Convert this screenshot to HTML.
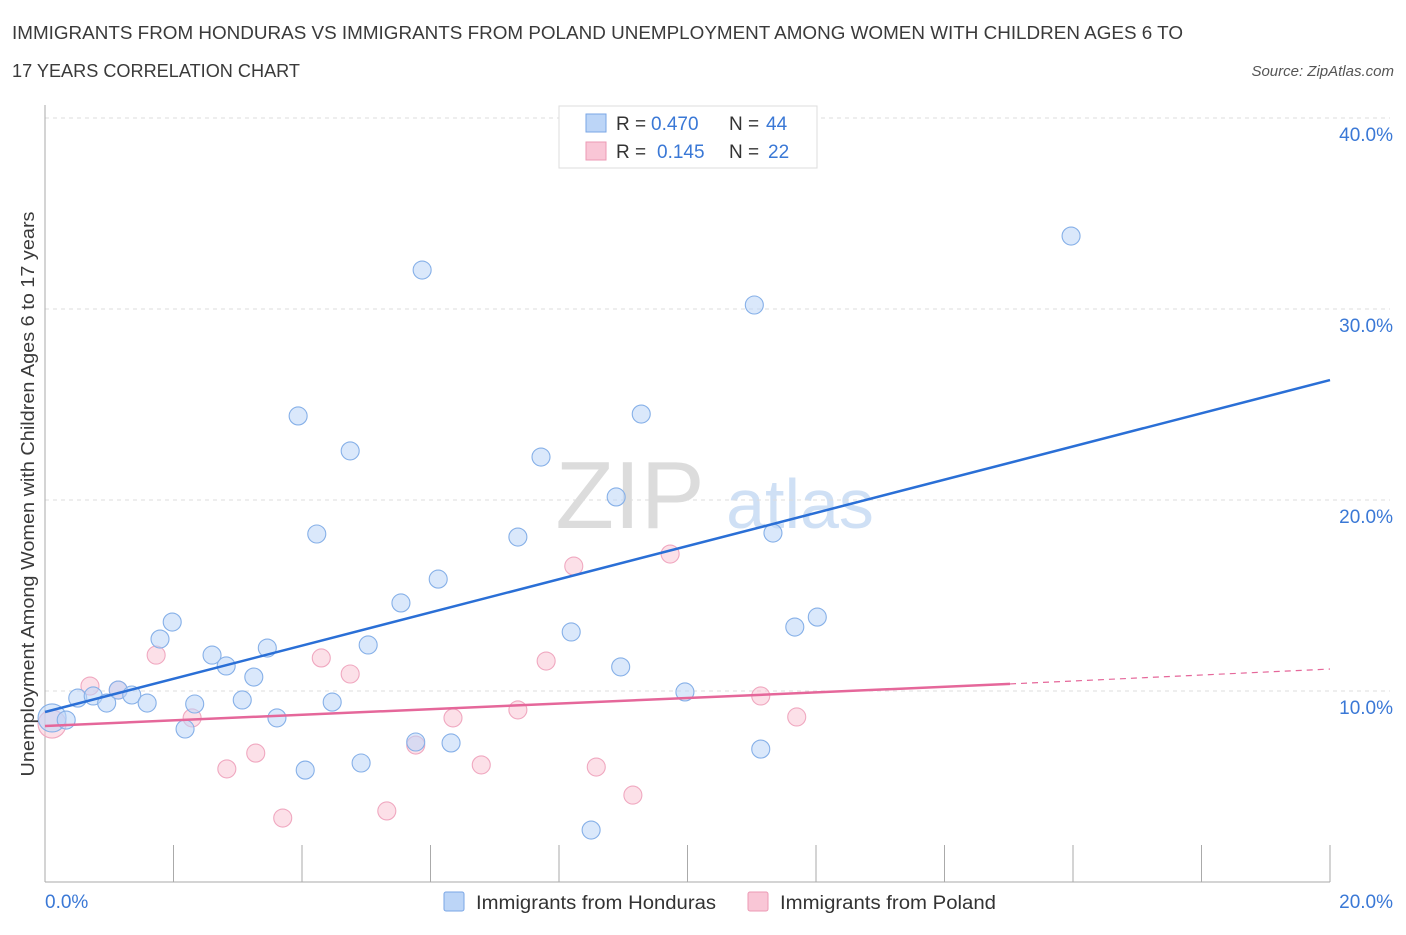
<!DOCTYPE html>
<html><head><meta charset="utf-8"><style>
body{margin:0;background:#fff;font-family:"Liberation Sans",sans-serif}
svg text{font-family:"Liberation Sans",sans-serif}
</style></head><body>
<svg width="1406" height="930" xmlns="http://www.w3.org/2000/svg">
<text x="12" y="39" font-size="18" fill="#3a3a3a" textLength="1171" lengthAdjust="spacingAndGlyphs">IMMIGRANTS FROM HONDURAS VS IMMIGRANTS FROM POLAND UNEMPLOYMENT AMONG WOMEN WITH CHILDREN AGES 6 TO</text>
<text x="12" y="77" font-size="18" fill="#3a3a3a" textLength="288" lengthAdjust="spacingAndGlyphs">17 YEARS CORRELATION CHART</text>
<text x="1394" y="76" font-size="15" fill="#555" font-style="italic" text-anchor="end">Source: ZipAtlas.com</text>
<text x="630" y="528" font-size="96" fill="#dcdcdc" font-family="Liberation Serif" text-anchor="middle">ZIP</text>
<text x="800" y="528" font-size="70" fill="#cfe0f5" text-anchor="middle">atlas</text>
<g id="grid"></g>
<g id="axes"></g>
<g id="marks"></g>
<text transform="translate(34,494) rotate(-90)" font-size="18" fill="#3a3a3a" text-anchor="middle" textLength="565" lengthAdjust="spacingAndGlyphs">Unemployment Among Women with Children Ages 6 to 17 years</text>
<g>
<rect x="559" y="106" width="258" height="62" fill="#fff" stroke="#ddd"/>
<rect x="586" y="114" width="20" height="18" fill="#bcd5f7" stroke="#7aa6e6"/>
<rect x="586" y="142" width="20" height="18" fill="#f9c6d6" stroke="#ec9ab4"/>
<text x="616" y="130" font-size="19" fill="#333">R =</text>
<text x="651" y="130" font-size="19" fill="#3a78d6">0.470</text>
<text x="729" y="130" font-size="19" fill="#333">N =</text>
<text x="766" y="130" font-size="19" fill="#3a78d6">44</text>
<text x="616" y="158" font-size="19" fill="#333">R =</text>
<text x="657" y="158" font-size="19" fill="#3a78d6">0.145</text>
<text x="729" y="158" font-size="19" fill="#333">N =</text>
<text x="768" y="158" font-size="19" fill="#3a78d6">22</text>
</g>
<g>
<rect x="444" y="892" width="20" height="19" fill="#bcd5f7" stroke="#7aa6e6" rx="2"/>
<text x="476" y="909" font-size="19" fill="#333" textLength="240" lengthAdjust="spacingAndGlyphs">Immigrants from Honduras</text>
<rect x="748" y="892" width="20" height="19" fill="#f9c6d6" stroke="#ec9ab4" rx="2"/>
<text x="780" y="909" font-size="19" fill="#333" textLength="216" lengthAdjust="spacingAndGlyphs">Immigrants from Poland</text>
</g>
</svg>
<script>
const blueX=[0.11,0.33,0.51,0.75,0.96,1.14,1.35,1.59,1.79,1.98,2.18,2.33,2.60,2.82,3.07,3.25,3.46,3.61,3.94,4.05,4.23,4.47,4.75,4.92,5.03,5.54,5.77,5.87,6.12,6.32,7.36,7.72,8.19,8.50,8.89,8.96,9.28,9.96,11.04,11.14,11.33,11.67,12.02,15.97];
const blueY=[8.59,8.48,9.63,9.74,9.37,10.05,9.79,9.37,12.72,13.61,8.01,9.32,11.88,11.31,9.53,10.73,12.25,8.59,24.40,5.86,18.22,9.42,22.57,6.23,12.41,14.61,7.33,32.04,15.86,7.28,18.06,22.25,13.09,2.72,20.16,11.26,24.50,9.95,30.21,6.96,18.27,13.35,13.87,33.82];
const pinkX=[0.11,0.70,1.14,1.73,2.29,2.83,3.28,3.70,4.30,4.75,5.32,5.77,6.35,6.79,7.36,7.80,8.23,8.58,9.15,9.73,11.14,11.70];
const pinkY=[8.27,10.26,10.05,11.88,8.59,5.92,6.75,3.35,11.73,10.89,3.72,7.17,8.59,6.13,9.01,11.57,16.54,6.02,4.55,17.17,9.74,8.64];
const blueTrend=[0,8.9,20,26.28];
const pinkTrend=[0,8.17,15.02,10.37,20,11.15];
const yTicks=[10,20,30,40];
const xTicks=[0,2,4,6,8,10,12,14,16,18,20];
const NS='http://www.w3.org/2000/svg';
const sx=v=>45+v*64.25, sy=v=>882-v*19.1;
function mk(t,a,p){const e=document.createElementNS(NS,t);for(const k in a)e.setAttribute(k,a[k]);document.getElementById(p).appendChild(e);return e;}
yTicks.forEach(t=>{
 const g=mk('line',{x1:45,x2:1390,y1:sy(t),y2:sy(t),stroke:'#ddd','stroke-dasharray':'4,4'},'grid');
 
 
 const l=mk('text',{x:1393,y:sy(t)+23,'font-size':19,fill:'#3a78d6','text-anchor':'end'},'grid');
 l.textContent=t.toFixed(1)+'%';
 
 
});
const ax=mk('line',{x1:45,x2:45,y1:105,y2:882,stroke:'#aaa'},'axes');


const bx=mk('line',{x1:45,x2:1330,y1:882,y2:882,stroke:'#aaa'},'axes');


xTicks.forEach(t=>{
 const e=mk('line',{x1:sx(t),x2:sx(t),y1:845,y2:882,stroke:'#aaa'},'axes');
 
 
});
[[0,'0.0%','start',45],[20,'20.0%','end',1393]].forEach(a=>{
 const l=mk('text',{x:a[3],y:908,'font-size':19,fill:'#3a78d6','text-anchor':a[2]},'axes');
 l.textContent=a[1];
 
 
});
function pts(X,Y,fill,stroke,name){
 X.forEach((x,i)=>{
  const r=i===0?14:9;
  const c=mk('circle',{cx:sx(x),cy:sy(Y[i]),r:r,fill:fill,'fill-opacity':0.55,stroke:stroke,'stroke-width':1.1},'marks');
  
  
 });
}
pts(pinkX,pinkY,'#f9c6d6','#f0a8c0','poland-point');
pts(blueX,blueY,'#bcd5f7','#86b0e8','honduras-point');
const bl=mk('line',{x1:sx(blueTrend[0]),y1:sy(blueTrend[1]),x2:sx(blueTrend[2]),y2:sy(blueTrend[3]),stroke:'#2a6fd6','stroke-width':2.5},'marks');


const pl=mk('line',{x1:sx(pinkTrend[0]),y1:sy(pinkTrend[1]),x2:sx(pinkTrend[2]),y2:sy(pinkTrend[3]),stroke:'#e5679a','stroke-width':2.5},'marks');


const pd=mk('line',{x1:sx(pinkTrend[2]),y1:sy(pinkTrend[3]),x2:sx(pinkTrend[4]),y2:sy(pinkTrend[5]),stroke:'#e5679a','stroke-width':1.2,'stroke-dasharray':'6,5'},'marks');


</script>
</body></html>
